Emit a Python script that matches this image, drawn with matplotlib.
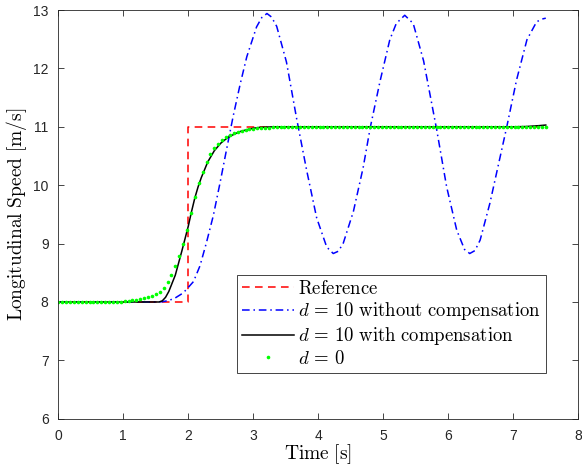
import numpy as np
import matplotlib
matplotlib.use('Agg')
import matplotlib.pyplot as plt

plt.rcParams['mathtext.fontset'] = 'cm'
plt.rcParams['font.family'] = ['Liberation Sans', 'DejaVu Sans']

# reference step
ref_t = [0.0, 2.0, 2.0, 7.5]
ref_speed = [8.0, 8.0, 11.0, 11.0]

# d = 10 without compensation
blue_t = [0.0, 1.5, 1.6, 1.7, 1.8, 1.9, 1.95, 2.0, 2.08, 2.18, 2.28, 2.385, 2.49, 2.59,
          2.69, 2.8, 2.9, 3.05, 3.13, 3.21, 3.28, 3.36, 3.51, 3.67, 3.82, 3.975, 4.13,
          4.23, 4.31, 4.385, 4.54, 4.69, 4.8, 4.95, 5.1, 5.2, 5.33, 5.46, 5.62, 5.82,
          5.975, 6.13, 6.25, 6.33, 6.41, 6.49, 6.64, 6.9, 7.05, 7.21, 7.36, 7.46, 7.5]
blue_speed = [8.0, 8.0, 8.005, 8.025, 8.07, 8.14, 8.19, 8.25, 8.35, 8.62, 9.02, 9.48, 10.05, 10.62,
              11.18, 11.74, 12.2, 12.71, 12.87, 12.94, 12.88, 12.72, 12.11, 11.12, 10.26, 9.44, 8.94,
              8.83, 8.87, 9.01, 9.55, 10.3, 10.99, 11.78, 12.49, 12.77, 12.91, 12.77, 12.13, 10.96,
              9.97, 9.23, 8.9, 8.83, 8.88, 9.06, 9.69, 11.0, 11.8, 12.49, 12.8, 12.85, 12.86]

# d = 10 with compensation
black_t = [0.0, 1.55, 1.6, 1.65, 1.7, 1.8, 1.9, 2.0, 2.05, 2.1, 2.15, 2.2, 2.3, 2.4, 2.5,
           2.6, 2.7, 2.8, 2.9, 3.0, 3.1, 3.3, 7.0, 7.2, 7.4, 7.5]
black_speed = [8.0, 8.0, 8.02, 8.08, 8.18, 8.46, 8.87, 9.3, 9.55, 9.78, 9.97, 10.13, 10.4, 10.59, 10.72,
               10.81, 10.87, 10.92, 10.95, 10.975, 10.99, 11.0, 11.0, 11.005, 11.02, 11.03]

# d = 0, sampled every 0.06 s
green_dt = 0.06
green_speed = [8.0, 8.0, 8.0, 8.0, 8.0, 8.0, 8.0, 8.0, 8.0, 8.0,
               8.0, 8.0, 8.0, 8.0, 8.0, 8.0, 8.0, 8.01, 8.02, 8.03,
               8.04, 8.05, 8.06, 8.08, 8.10, 8.13, 8.17, 8.24, 8.34, 8.46,
               8.61, 8.79, 9.0, 9.24, 9.52, 9.79, 10.03, 10.23, 10.4, 10.53,
               10.63, 10.71, 10.77, 10.82, 10.86, 10.89, 10.91, 10.93, 10.945, 10.955,
               10.965, 10.972, 10.978, 10.982, 10.986, 10.99, 10.992, 10.994, 11.0, 11.0,
               11.0, 11.0, 11.0, 11.0, 11.0, 11.0, 11.0, 11.0, 11.0, 11.0,
               11.0, 11.0, 11.0, 11.0, 11.0, 11.0, 11.0, 11.0, 11.0, 11.0,
               11.0, 11.0, 11.0, 11.0, 11.0, 11.0, 11.0, 11.0, 11.0, 11.0,
               11.0, 11.0, 11.0, 11.0, 11.0, 11.0, 11.0, 11.0, 11.0, 11.0,
               11.0, 11.0, 11.0, 11.0, 11.0, 11.0, 11.0, 11.0, 11.0, 11.0,
               11.0, 11.0, 11.0, 11.0, 11.0, 11.0, 11.0, 11.0, 11.0, 11.0,
               11.0, 11.0, 11.0, 11.0, 11.0, 11.0]
green_t = np.arange(len(green_speed)) * green_dt

fig = plt.figure(figsize=(5.82, 4.74), dpi=100)
ax = fig.add_axes([0.1002, 0.1165, 0.8934, 0.8624])

ax.plot(ref_t, ref_speed, color='red', ls=(0, (5, 3.5)), lw=1.1, label=r'$\mathrm{Reference}$')
ax.plot(blue_t, blue_speed, color='blue', ls=(0, (5, 2.5, 1, 2.5)), lw=1.1,
        label=r'$d\,=\,10\ \mathrm{without\ compensation}$')
ax.plot(black_t, black_speed, color='black', lw=1.1,
        label=r'$d\,=\,10\ \mathrm{with\ compensation}$')
ax.plot(green_t, green_speed, ls='none', marker='o', ms=2.6, mec='none', color=(0, 1, 0),
        label=r'$d\,=\,0$')

ax.set_xlim(0, 8)
ax.set_ylim(6, 13)
ax.set_xticks(range(0, 9))
ax.set_yticks(range(6, 14))
ax.tick_params(direction='in', length=4, width=0.6, top=True, right=True,
               labelsize=10, colors='#262626', pad=7)
for s in ax.spines.values():
    s.set_color('#262626')
    s.set_linewidth(0.6)

ax.set_xlabel(r'$\mathrm{Time\ [s]}$', fontsize=14, labelpad=0)
ax.set_ylabel(r'$\mathrm{Longitudinal\ Speed\ [m/s]}$', fontsize=14, labelpad=3)

leg = ax.legend(loc='upper left', bbox_to_anchor=(0.344, 0.352), borderaxespad=0,
                fancybox=False, framealpha=1, edgecolor='#262626', fontsize=13.5,
                handlelength=2.8, handletextpad=0.2, borderpad=0.25, labelspacing=0.15)
leg.get_frame().set_linewidth(0.6)

fig.savefig('out.png', dpi=100)
